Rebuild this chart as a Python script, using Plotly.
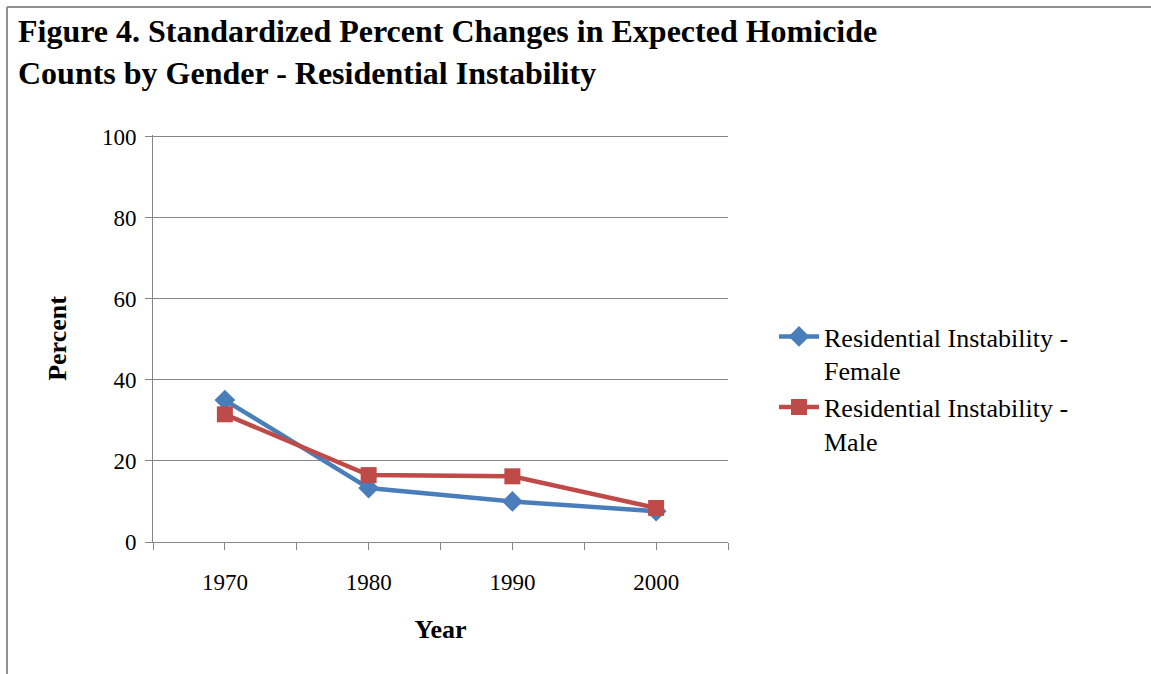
import plotly.graph_objects as go

years = [1970, 1980, 1990, 2000]
female = [35.0, 13.3, 10.0, 7.6]
male = [31.5, 16.5, 16.2, 8.4]
tick_vals = [1965, 1970, 1975, 1980, 1985, 1990, 1995, 2000, 2005]
tick_text = ["", "1970", "", "1980", "", "1990", "", "2000", ""]

FONT = "Liberation Serif"
W, H = 1151, 674
L, R, T, B = 153, 1151 - 728, 135, 674 - 542
pw, ph = W - L - R, H - T - B

def px(x):
    return (x - L) / pw

def py(y):
    return (H - B - y) / ph

fig = go.Figure()
fig.add_trace(go.Scatter(
    x=years, y=female, mode="lines+markers",
    name="Residential Instability -<br>Female",
    line=dict(color="#4A7EBB", width=4.5),
    marker=dict(symbol="diamond", size=16, color="#4A7EBB"),
))
fig.add_trace(go.Scatter(
    x=years, y=male, mode="lines+markers",
    name="Residential Instability -<br>Male",
    line=dict(color="#BE4B48", width=4.5),
    marker=dict(symbol="square", size=16, color="#BE4B48"),
))

fig.update_layout(
    width=W, height=H,
    margin=dict(l=L, r=R, t=T, b=B),
    paper_bgcolor="white", plot_bgcolor="white",
    font=dict(family=FONT, size=23, color="black"),
    showlegend=True,
    legend=dict(x=px(774), y=py(313), xanchor="left", yanchor="top",
                valign="top", font=dict(family=FONT, size=26),
                itemwidth=40, tracegroupgap=16, bgcolor="rgba(0,0,0,0)"),
    xaxis=dict(range=[1965, 2005], tickmode="array", tickvals=tick_vals,
               ticktext=tick_text, ticks="outside", ticklen=7,
               tickcolor="#868686", showline=True, linecolor="#868686",
               linewidth=1, showgrid=False, zeroline=False,
               ticklabelstandoff=12,
               tickfont=dict(family=FONT, size=23),
               title=dict(text="<b>Year</b>", font=dict(family=FONT, size=26),
                          standoff=26)),
    yaxis=dict(range=[0, 100.4], tickmode="array",
               tickvals=[0, 20, 40, 60, 80, 100], ticks="outside", ticklen=7,
               tickcolor="#868686", showline=True, linecolor="#868686",
               linewidth=1, showgrid=True, gridcolor="#868686",
               gridwidth=1, zeroline=False,
               ticklabelstandoff=4,
               tickfont=dict(family=FONT, size=23),
               title=dict(text="<b>Percent</b>", font=dict(family=FONT, size=26),
                          standoff=27)),
)

fig.add_annotation(
    text="<b>Figure 4. Standardized Percent Changes in Expected Homicide<br>Counts by Gender - Residential Instability</b>",
    xref="paper", yref="paper", x=px(16), y=py(11),
    xanchor="left", yanchor="top", align="left", showarrow=False,
    font=dict(family=FONT, size=32, color="black"),
)

fig.add_shape(type="line", xref="paper", yref="paper",
              x0=px(7), x1=px(1160), y0=py(7), y1=py(7),
              line=dict(color="#909090", width=2))
fig.add_shape(type="line", xref="paper", yref="paper",
              x0=px(7), x1=px(7), y0=py(7), y1=py(680),
              line=dict(color="#909090", width=2))

fig.write_html("out.html")
